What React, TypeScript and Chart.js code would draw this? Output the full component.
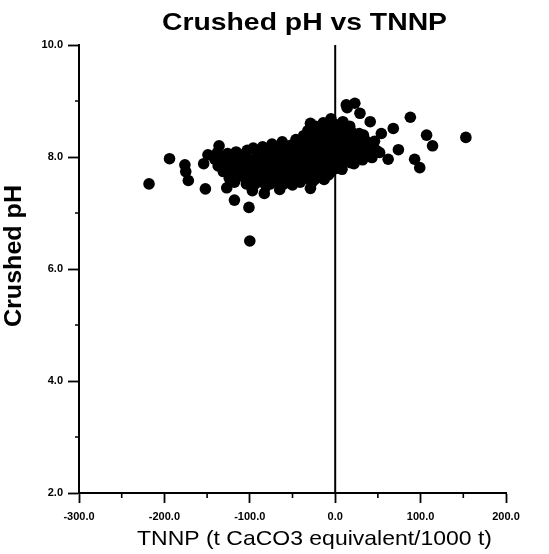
import React, { useEffect, useRef } from "react";
import { Chart, registerables } from "chart.js";

Chart.register(...registerables);

const chartTitle = "Crushed pH vs TNNP";
const xAxisTitle = "TNNP (t CaCO3 equivalent/1000 t)";
const yAxisTitle = "Crushed pH";

const xMin = -300;
const xMax = 200;
const yMin = 2;
const yMax = 10;
const xMinorTicks = [-250, -150, -50, 50, 150];
const yMinorTicks = [3, 5, 7, 9];

// TNNP values (t CaCO3 equivalent / 1000 t)
const tnnpValues = [
  -218, -194, -176, -175, -172, -152, -136, -149, -154, -118, -101, -100, -127, -83, -65, -29, -8, -29,
  13, 23, 33, 88, 153, 107, 114, 93, 99, 68, 54, 74, 62, 41, 29, 14, 52,
  -141, -137, -133, -131, -128, -126, -124, -122, -119, -118, -116, -114, -112, -110, -108, -107,
  -104, -103, -102, -99, -97, -96, -94, -93, -91, -89, -88, -86, -85, -83, -81, -80, -78, -77, -75,
  -74, -72, -71, -69, -68, -66, -65, -63, -62, -60, -59, -58, -56, -55, -54, -52, -51, -50, -49,
  -47, -46, -45, -44, -42, -41, -40, -39, -38, -37, -36, -34, -33, -32, -31, -30, -29, -28, -27,
  -26, -25, -24, -23, -22, -21, -20, -19, -18, -17, -16, -15, -14, -13, -12, -11, -10, -9, -8,
  -7, -6, -5, -4, -3, -2, -1, 0, 1, 2, 3, 4, 5, 6, 7, 8, 9, 10, 11, 12, 13, 15, 16, 17, 18, 20,
  21, 23, 25, 27, 28, 30, 32, 35, 37, 40, 43, 46, 48,
  -138, -134, -129, -121, -117, -113, -109, -106, -101, -98, -95, -92, -90, -87, -84, -82, -79, -76,
  -73, -70, -67, -64, -61, -57, -53, -48, -43, -35, -33, -28, -24, -19, -14, -12, -6, -3, -1, 2, 4,
  8, 14, 19, 22, 26, 31, 34, 38, 42, 45,
];

// Crushed pH values
const phValues = [
  7.52, 7.97, 7.86, 7.74, 7.58, 7.43, 8.2, 8.04, 7.88, 7.23, 7.1, 6.5, 7.45, 7.35, 7.42, 7.44, 7.68, 8.6,
  8.93, 8.96, 8.39, 8.71, 8.35, 8.39, 8.2, 7.96, 7.81, 8.51, 8.42, 8.13, 7.96, 8.63, 8.78, 8.88, 8.08,
  7.96, 7.84, 8.01, 7.74, 7.93, 8.06, 7.62, 7.86, 7.99, 7.55, 8.09, 7.78, 7.92, 7.66, 8.04, 7.85,
  7.52, 8.12, 7.74, 7.95, 7.4, 8.16, 7.62, 7.84, 8.06, 7.56, 7.93, 7.73, 8.18, 8.01, 7.48, 7.86, 7.66, 8.1, 7.96,
  8.23, 7.58, 7.78, 8.03, 7.91, 7.69, 8.16, 7.84, 8.27, 7.52, 7.98, 7.73, 8.11, 7.62, 7.88, 8.21, 8.04, 7.5, 7.79,
  7.95, 8.31, 7.66, 8.12, 7.84, 7.55, 8.24, 8.02, 7.71, 8.38, 7.91, 8.15, 7.62, 8.47, 7.79, 8.28, 8.05, 7.93, 7.55,
  8.4, 7.71, 8.18, 8.55, 7.86, 8.01, 7.64, 8.33, 8.12, 7.79, 8.46, 7.95, 8.61, 7.6, 8.24, 8.07, 7.72, 8.38, 8.52,
  7.88, 8.16, 8.68, 7.99, 8.3, 7.78, 8.44, 8.58, 7.92, 8.1, 8.36, 7.8, 8.22, 8.5, 8.02, 7.88, 8.63, 8.3, 8.15, 7.95, 8.44, 8.06, 8.24, 8.55, 7.9, 8.35,
  8.12, 7.98, 8.27, 8.06, 8.42, 8.17, 7.95, 8.3, 8.08, 8.2, 7.99, 8.28, 8.12,
  8.08, 7.9, 7.82, 7.72, 7.9, 8.0, 7.77, 7.92, 7.63, 7.82, 7.5, 7.95, 7.7, 8.1, 7.6, 7.78, 7.98, 7.52,
  7.9, 8.12, 7.58, 7.97, 7.65, 8.0, 7.56, 8.05, 7.74, 7.68, 8.25, 8.33, 7.6, 7.9, 7.7, 8.45, 7.72, 8.05, 7.85, 8.28, 8.45,
  7.78, 8.15, 8.45, 7.88, 8.17, 8.3, 8.02, 8.24, 8.1, 8.15,
];

const FONT = '"Liberation Sans", Arial, sans-serif';

function drawStretched(ctx: CanvasRenderingContext2D, text: string, font: string, targetWidth: number) {
  ctx.font = font;
  const w = ctx.measureText(text).width;
  const s = targetWidth / w;
  ctx.save();
  ctx.scale(s, 1);
  ctx.fillText(text, 0, 0);
  ctx.restore();
}

const decorPlugin = {
  id: "decor",
  beforeDatasetsDraw(chart: any) {
    const { ctx, chartArea, scales } = chart;
    const x0 = scales.x.getPixelForValue(0);
    ctx.save();
    ctx.strokeStyle = "#000";
    ctx.lineWidth = 2;
    ctx.beginPath();
    ctx.moveTo(x0, chartArea.top);
    ctx.lineTo(x0, chartArea.bottom);
    ctx.stroke();
    ctx.restore();
  },
  afterDraw(chart: any) {
    const { ctx, chartArea, scales } = chart;
    ctx.save();
    ctx.strokeStyle = "#000";
    ctx.lineWidth = 1.6;
    ctx.beginPath();
    for (const v of xMinorTicks) {
      const px = scales.x.getPixelForValue(v);
      ctx.moveTo(px, chartArea.bottom);
      ctx.lineTo(px, chartArea.bottom + 5);
    }
    for (const v of yMinorTicks) {
      const py = scales.y.getPixelForValue(v);
      ctx.moveTo(chartArea.left, py);
      ctx.lineTo(chartArea.left - 4, py);
    }
    ctx.stroke();

    ctx.fillStyle = "#000";
    ctx.textAlign = "center";
    ctx.textBaseline = "alphabetic";

    ctx.save();
    ctx.translate(304.5, 29.5);
    drawStretched(ctx, chartTitle, `bold 24px ${FONT}`, 285);
    ctx.restore();

    ctx.save();
    ctx.translate(314.5, 544.5);
    drawStretched(ctx, xAxisTitle, `21px ${FONT}`, 355);
    ctx.restore();

    ctx.save();
    ctx.translate(20.5, 256);
    ctx.rotate(-Math.PI / 2);
    drawStretched(ctx, yAxisTitle, `bold 24px ${FONT}`, 142);
    ctx.restore();

    ctx.restore();
  },
};

export default function App() {
  const canvasRef = useRef<HTMLCanvasElement | null>(null);

  useEffect(() => {
    if (!canvasRef.current) return;
    const points = tnnpValues.map((x, i) => ({ x, y: phValues[i] }));
    const chart = new Chart(canvasRef.current, {
      type: "scatter",
      data: {
        datasets: [
          {
            data: points,
            backgroundColor: "#000",
            borderColor: "#000",
            borderWidth: 0,
            pointRadius: 5.8,
            pointHoverRadius: 5.8,
          },
        ],
      },
      options: {
        responsive: false,
        animation: false,
        events: [],
        layout: { padding: { left: 0, top: 45, right: 43, bottom: 0 } },
        plugins: {
          legend: { display: false },
          title: { display: false },
          tooltip: { enabled: false },
        },
        scales: {
          x: {
            type: "linear",
            min: xMin,
            max: xMax,
            afterFit: (scale: any) => {
              scale.height = 61;
            },
            border: { display: true, color: "#000", width: 2 },
            grid: {
              drawOnChartArea: false,
              drawTicks: true,
              tickLength: 10,
              tickColor: "#000",
              tickWidth: 1.8,
            },
            ticks: {
              stepSize: 100,
              color: "#000",
              padding: 7,
              maxRotation: 0,
              font: { family: FONT, size: 11, weight: "bold" },
              callback: (v: any) => Number(v).toFixed(1),
            },
          },
          y: {
            type: "linear",
            min: yMin,
            max: yMax,
            afterFit: (scale: any) => {
              scale.width = 79;
            },
            border: { display: true, color: "#000", width: 2 },
            grid: {
              drawOnChartArea: false,
              drawTicks: true,
              tickLength: 11,
              tickColor: "#000",
              tickWidth: 1.8,
            },
            ticks: {
              stepSize: 2,
              color: "#000",
              padding: 5,
              font: { family: FONT, size: 11, weight: "bold" },
              callback: (v: any) => Number(v).toFixed(1),
            },
          },
        },
      },
      plugins: [decorPlugin],
    });
    return () => chart.destroy();
  }, []);

  return (
    <div style={{ position: "fixed", left: 0, top: 0, width: 549, height: 554, background: "#fff" }}>
      <canvas ref={canvasRef} width={549} height={554} style={{ display: "block" }} />
    </div>
  );
}
